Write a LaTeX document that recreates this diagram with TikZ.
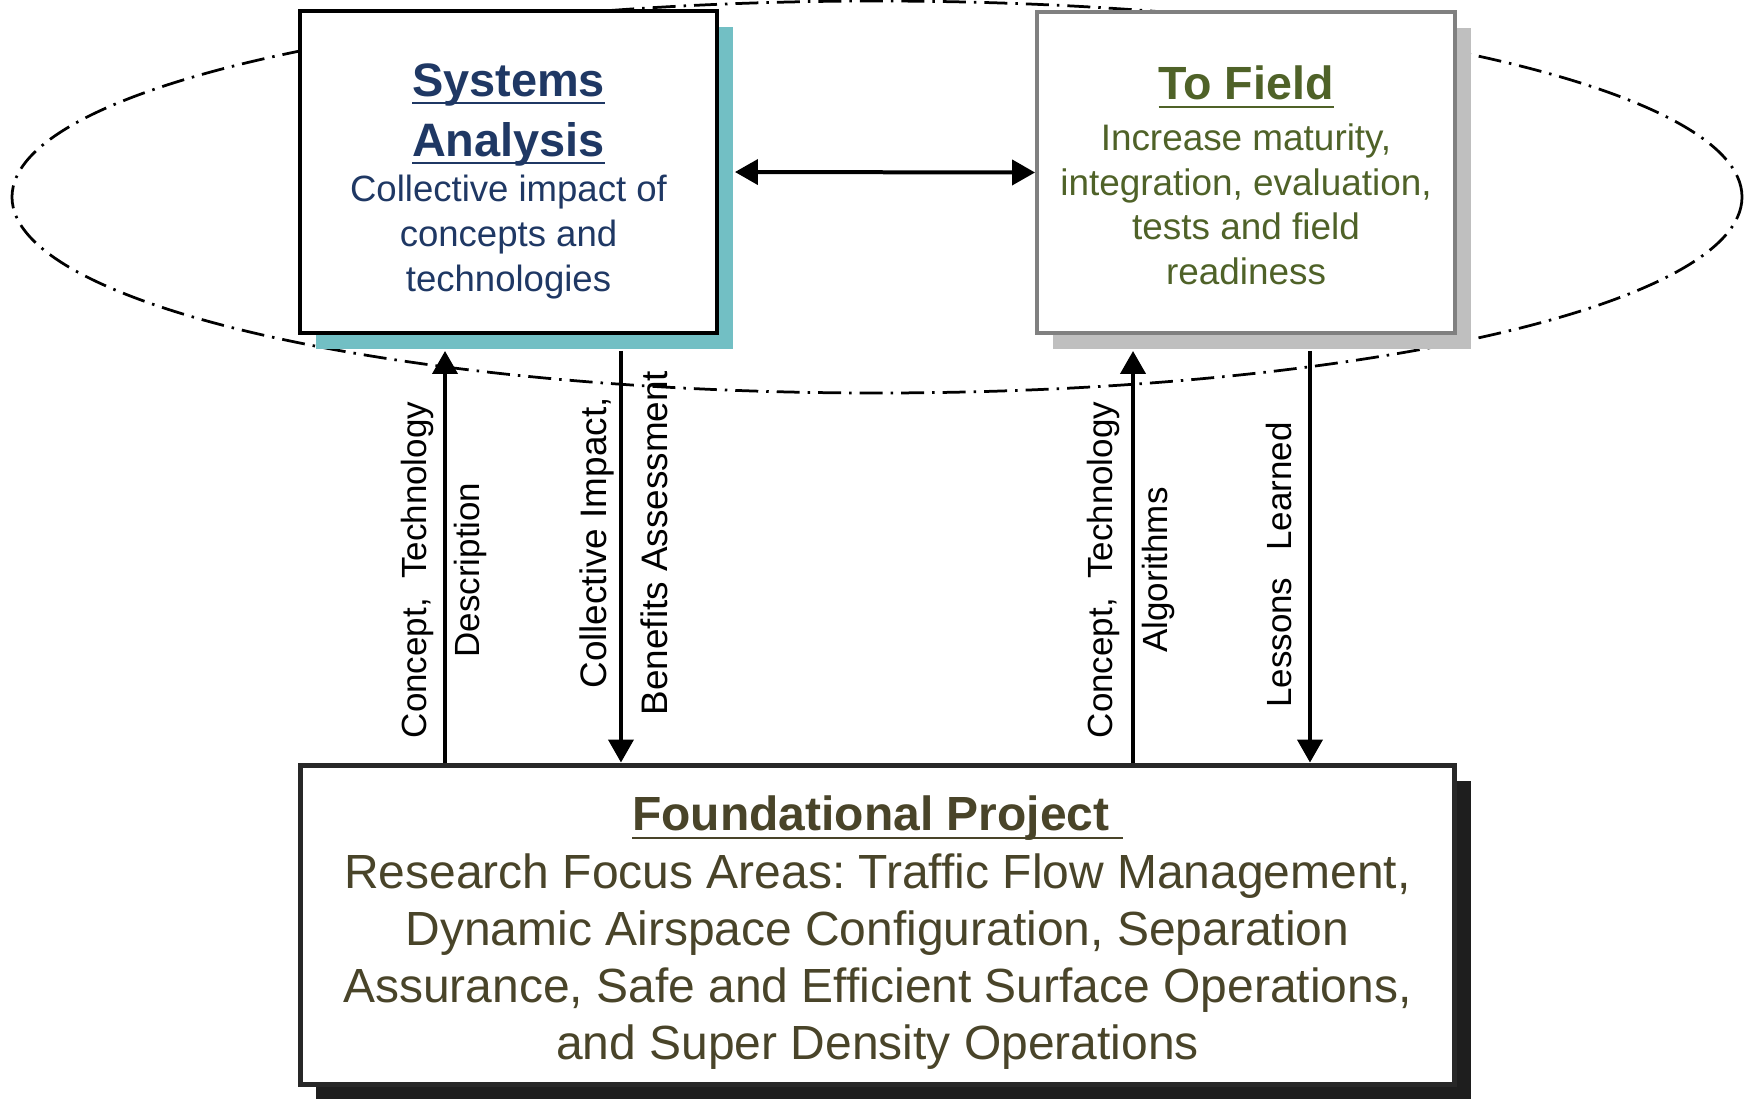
\documentclass[tikz,border=0pt]{standalone}
\usepackage{fontspec}
\setmainfont{Liberation Sans}
\usetikzlibrary{arrows.meta, positioning, shadows}

\definecolor{saBlue}{RGB}{31,56,100}
\definecolor{saShade}{RGB}{114,191,196}
\definecolor{tfGreen}{RGB}{79,98,40}
\definecolor{tfEdge}{RGB}{128,128,128}
\definecolor{tfShade}{RGB}{191,191,191}
\definecolor{fpBrown}{RGB}{73,68,41}
\definecolor{fpEdge}{RGB}{40,40,40}
\definecolor{fpShade}{RGB}{30,30,30}

% bold heading with a heavier underline
\newcommand{\hdline}[1]{\setbox0=\hbox{\bfseries #1}\rlap{\rule[-4.5pt]{\wd0}{1.2pt}}\box0}

\frenchspacing

\begin{document}
\begin{tikzpicture}[x=0.02cm, y=-0.02cm,
  box/.style={draw, fill=white, inner sep=0pt},
  txt/.style={align=center, inner sep=0pt},
  flow/.style={line width=0.08cm, -{Triangle[length=0.46cm, width=0.5cm]}},
  twoway/.style={line width=0.08cm, {Triangle[length=0.46cm, width=0.5cm]}-{Triangle[length=0.46cm, width=0.5cm]}},
  lbl/.style={rotate=90, align=center, inner sep=0pt, font=\fontsize{19.9}{30.2}\selectfont}]

\useasboundingbox (0,0) rectangle (1745,1099);

\draw [line width=0.055cm][dash pattern=on 0.46cm off 0.16cm on 0.05cm off 0.16cm] (877,197) ellipse [x radius=865, y radius=196];

% boxes
\node[box, line width=0.08cm, minimum width=8.34cm, minimum height=6.44cm,
  drop shadow={fill=saShade, opacity=1, shadow xshift=0.32cm, shadow yshift=-0.32cm}] (sa) at (508.5,172) {};
\node[box, draw=tfEdge, line width=0.08cm, minimum width=8.36cm, minimum height=6.42cm,
  drop shadow={fill=tfShade, opacity=1, shadow xshift=0.32cm, shadow yshift=-0.32cm}] (tf) at (1246,172.5) {};
\node[box, draw=fpEdge, line width=0.1cm, minimum width=23.1cm, minimum height=6.4cm,
  drop shadow={fill=fpShade, opacity=1, shadow xshift=0.32cm, shadow yshift=-0.32cm}] (fp) at (877.5,925) {};

% box texts
\node[txt, text=saBlue, font=\fontsize{20.8}{25.6}\selectfont] (saText) at ([yshift=-0.18cm]sa.center)
  {{\fontsize{26.7}{34}\selectfont\hdline{Systems}}\\[8.5pt]
   {\fontsize{26.7}{34}\selectfont\hdline{Analysis}}\\
   Collective impact of\\ concepts and\\ technologies};
\node[txt, text=tfGreen, font=\fontsize{21}{25.4}\selectfont] (tfText) at ([yshift=-0.06cm]tf.center)
  {{\fontsize{26.5}{34}\selectfont\hdline{To Field}}\\[3.5pt]
   Increase maturity,\\ integration, evaluation,\\ tests and field\\ readiness};
\node[txt, text=fpBrown, font=\fontsize{27.3}{32.4}\selectfont] (fpText) at ([yshift=-0.15cm]fp.center)
  {\hdline{Foundational Project }\\[0.4pt]
   Research Focus Areas: Traffic Flow Management,\\
   Dynamic Airspace Configuration, Separation\\
   Assurance, Safe and Efficient Surface Operations,\\
   and Super Density Operations};

% connectors
\coordinate (saIn) at ([xshift=-1.27cm, yshift=-0.32cm]sa.south);
\coordinate (saOut) at ([xshift=2.25cm, yshift=-0.32cm]sa.south);
\coordinate (tfIn) at ([xshift=-2.26cm, yshift=-0.32cm]tf.south);
\coordinate (tfOut) at ([xshift=1.28cm, yshift=-0.32cm]tf.south);

\draw [twoway] ([xshift=0.32cm]sa.east) -- (tf.west);
\foreach \c in {saIn, tfIn}
  \draw [flow] (fp.north -| \c) -- (\c);
\foreach \c in {saOut, tfOut}
  \draw [flow] (\c) -- (fp.north -| \c);

\node[lbl] (upSa) at (444,570) {Concept, \ Technology\\ Description};
\node[lbl, font=\fontsize{21}{31.5}\selectfont] (downSa) at (624,543) {Collective Impact,\\[3pt] Benefits Assessment};
\node[lbl] (upTf) at (1131,570) {Concept, \ Technology\\[0.6pt] Algorithms};
\node[lbl] (downTf) at (1279,565) {Lessons\hspace{0.54cm}Learned};
\end{tikzpicture}
\end{document}
